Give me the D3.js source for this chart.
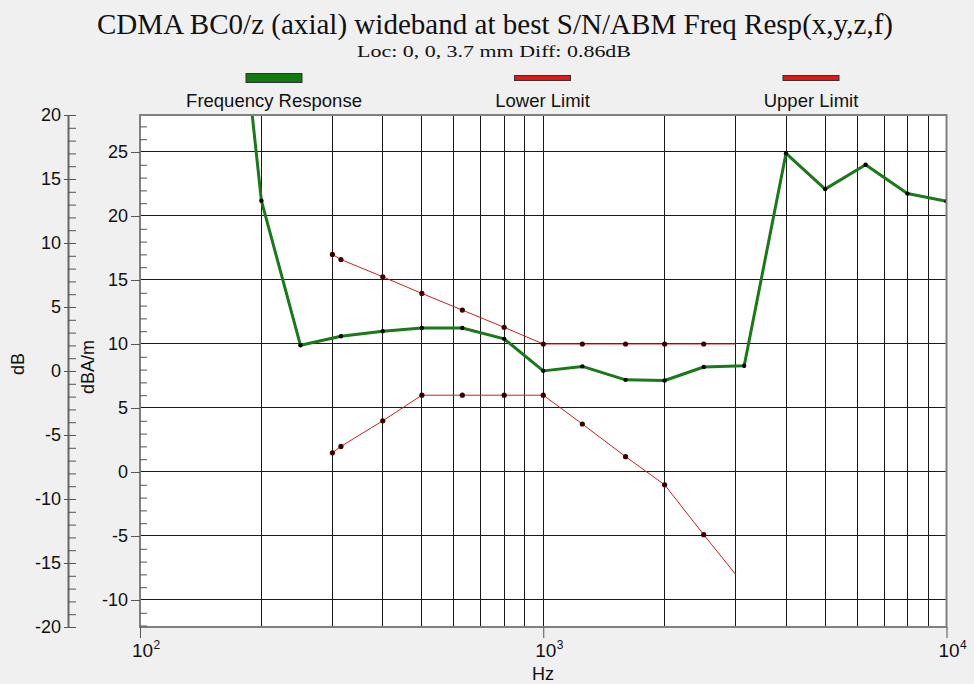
<!DOCTYPE html>
<html>
<head>
<meta charset="utf-8">
<script src="https://cdn.jsdelivr.net/npm/d3@7"></script>
<style>
   body { margin: 0; background: #f0f0f0; }
   svg { display: block; }
</style>
</head>
<body>
<div id="chart"></div>
<script>
// measured response, dBA/m
const freqHz = [160, 200, 250, 315, 400, 500, 630, 800, 1000, 1250, 1600, 2000, 2500, 3150, 4000, 5000, 6300, 8000, 10000];
const response = [49.7, 21.2, 9.9, 10.6, 11.0, 11.25, 11.25, 10.4, 7.9, 8.25, 7.2, 7.15, 8.2, 8.3, 24.9, 22.1, 24.0, 21.75, 21.15];

// limit masks, dBA/m
const limitHz = [300, 315, 400, 500, 630, 800, 1000, 1250, 1600, 2000, 2500, 3000];
const upperLimit = [17, 16.6, 15.25, 13.95, 12.65, 11.3, 10, 10, 10, 10, 10, 10];
const lowerLimit = [1.5, 2, 4, 6, 6, 6, 6, 3.75, 1.2, -1, -4.9, -8];

const dbTicks = [-20, -15, -10, -5, 0, 5, 10, 15, 20];
const dbaTicks = [-10, -5, 0, 5, 10, 15, 20, 25];
const hzTicks = [100, 1000, 10000];
const legendItems = ["Frequency Response", "Lower Limit", "Upper Limit"];

const width = 974, height = 684;
const m = { top: 115, left: 140, right: 27.5, bottom: 57 };
const sans = "'Liberation Sans', Arial, sans-serif";
const serif = "'Liberation Serif', 'Times New Roman', serif";
const green = "#187a18", red = "#cc2020";

let svg = d3.select("#chart").append("svg")
   .attr("width", width)
   .attr("height", height);

let x = d3.scaleLog()
   .domain([100, 10000])
   .range([m.left, width - m.right]);

// dB (outer axis) and dBA/m (inner axis) share the plot height
let yDb = d3.scaleLinear()
   .domain([-20, 20])
   .range([height - m.bottom, m.top]);

let y = d3.scaleLinear()
   .domain([-12.11, 27.89])
   .range([height - m.bottom, m.top]);

// titles
svg.append("text")
   .attr("x", 495).attr("y", 34)
   .attr("text-anchor", "middle")
   .attr("font-family", serif).attr("font-size", 30)
   .attr("textLength", 796).attr("lengthAdjust", "spacingAndGlyphs")
   .attr("fill", "#111")
   .text("CDMA BC0/z (axial) wideband at best S/N/ABM Freq Resp(x,y,z,f)");

svg.append("text")
   .attr("x", 494).attr("y", 57)
   .attr("text-anchor", "middle")
   .attr("font-family", serif).attr("font-size", 17)
   .attr("textLength", 274).attr("lengthAdjust", "spacingAndGlyphs")
   .attr("fill", "#111")
   .text("Loc: 0, 0, 3.7 mm Diff: 0.86dB");

// legend
let lx = d3.scalePoint().domain(legendItems).range([274, 811]);
let legend = svg.selectAll(".legend")
   .data(legendItems)
 .enter().append("g")
   .attr("class", "legend")
   .attr("transform", d => "translate(" + lx(d) + ",0)");

legend.append("rect")
   .attr("x", -28)
   .attr("y", (d, i) => i === 0 ? 73.5 : 75.5)
   .attr("width", 56)
   .attr("height", (d, i) => i === 0 ? 9 : 5)
   .attr("fill", (d, i) => i === 0 ? "#107a10" : "#e01818")
   .attr("stroke", "#333").attr("stroke-width", 1);

legend.append("text")
   .attr("y", 107)
   .attr("text-anchor", "middle")
   .attr("font-family", sans).attr("font-size", 18.5)
   .attr("fill", "#111")
   .text(d => d);

// plot area
svg.append("rect")
   .attr("x", m.left).attr("y", m.top)
   .attr("width", width - m.left - m.right)
   .attr("height", height - m.top - m.bottom)
   .attr("fill", "#fff");

let grid = svg.append("g")
   .attr("stroke", "#1a1a1a")
   .attr("stroke-width", 1)
   .attr("shape-rendering", "crispEdges");

grid.selectAll(".vgrid")
   .data(x.ticks().filter(d => d > 100 && d < 10000))
 .enter().append("line")
   .attr("x1", d => x(d)).attr("x2", d => x(d))
   .attr("y1", m.top).attr("y2", height - m.bottom);

grid.selectAll(".hgrid")
   .data(dbaTicks)
 .enter().append("line")
   .attr("x1", m.left).attr("x2", width - m.right)
   .attr("y1", d => y(d)).attr("y2", d => y(d));

// series
svg.append("clipPath").attr("id", "clip")
 .append("rect")
   .attr("x", m.left).attr("y", m.top)
   .attr("width", width - m.left - m.right)
   .attr("height", height - m.top - m.bottom);

let plot = svg.append("g").attr("clip-path", "url(#clip)");
let line = d3.line().x(d => x(d[0])).y(d => y(d[1]));

let limits = [d3.zip(limitHz, upperLimit), d3.zip(limitHz, lowerLimit)];

plot.selectAll(".limit")
   .data(limits)
 .enter().append("path")
   .attr("fill", "none")
   .attr("stroke", red)
   .attr("stroke-width", 1)
   .attr("d", line);

// the 3 kHz end points carry no marker
plot.selectAll(".limit-pt")
   .data(limits.flatMap(s => s.slice(0, -1)))
 .enter().append("circle")
   .attr("cx", d => x(d[0])).attr("cy", d => y(d[1]))
   .attr("r", 2.6)
   .attr("fill", "#3a0000");

let resp = d3.zip(freqHz, response);

plot.append("path")
   .attr("fill", "none")
   .attr("stroke", green)
   .attr("stroke-width", 3)
   .attr("stroke-linejoin", "round")
   .attr("d", line(resp));

plot.selectAll(".resp-pt")
   .data(resp)
 .enter().append("circle")
   .attr("cx", d => x(d[0])).attr("cy", d => y(d[1]))
   .attr("r", 2.2)
   .attr("fill", "#000");

// frame
svg.append("rect")
   .attr("x", m.left).attr("y", m.top)
   .attr("width", width - m.left - m.right)
   .attr("height", height - m.top - m.bottom)
   .attr("fill", "none")
   .attr("stroke", "#808080")
   .attr("stroke-width", 2);

function styleAxis(g) {
   g.attr("font-family", sans).attr("font-size", 18);
   g.selectAll("line").attr("stroke", "#555");
   g.selectAll("path").attr("stroke", "#666").attr("stroke-width", 2);
   g.selectAll("text").attr("fill", "#111");
}

const plain = d => String(d);   // hyphen minus, like the reference

// inner dBA/m axis
svg.append("g")
   .attr("transform", "translate(" + m.left + ",0)")
   .call(d3.axisLeft(y).tickValues(dbaTicks).tickFormat(plain).tickSize(9).tickPadding(3).tickSizeOuter(0))
   .call(styleAxis)
   .call(g => g.select(".domain").remove());

svg.append("g")
   .attr("transform", "translate(" + m.left + ",0)")
   .call(d3.axisRight(y)
      .tickValues(d3.range(-12, 28).filter(d => d % 5 !== 0))
      .tickSize(7).tickFormat(""))
   .call(styleAxis)
   .call(g => g.select(".domain").remove())
   .call(g => g.selectAll("text").remove());

// outer dB axis
svg.append("g")
   .attr("transform", "translate(68,0)")
   .call(d3.axisLeft(yDb).tickValues(dbTicks).tickFormat(plain).tickSize(4).tickPadding(3).tickSizeOuter(0))
   .call(styleAxis);

svg.append("g")
   .attr("transform", "translate(68,0)")
   .call(d3.axisRight(yDb).tickValues(d3.range(-20, 21)).tickSize(8).tickFormat("").tickSizeOuter(0))
   .call(styleAxis)
   .call(g => g.select(".domain").remove())
   .call(g => g.selectAll("text").remove());

// x axis, labels as 10^n
let xAxis = svg.append("g")
   .attr("transform", "translate(0," + (height - m.bottom) + ")")
   .call(d3.axisBottom(x).tickValues(hzTicks).tickSize(11).tickFormat(""))
   .call(styleAxis)
   .call(g => g.select(".domain").remove())
   .call(g => g.selectAll("text").remove());

let xl = xAxis.selectAll(".tick");
xl.append("text")
   .attr("y", 30).attr("x", 2)
   .attr("text-anchor", "middle")
   .attr("font-size", 19)
   .attr("fill", "#111")
   .text("10");
xl.append("text")
   .attr("y", 22).attr("x", 13)
   .attr("text-anchor", "start")
   .attr("font-size", 12)
   .attr("fill", "#111")
   .text(d => Math.round(Math.log10(d)));

// axis titles
svg.append("text")
   .attr("x", 543).attr("y", 680)
   .attr("text-anchor", "middle")
   .attr("font-family", sans).attr("font-size", 18)
   .attr("fill", "#111")
   .text("Hz");

svg.append("text")
   .attr("transform", "translate(24,364) rotate(-90)")
   .attr("text-anchor", "middle")
   .attr("font-family", sans).attr("font-size", 18)
   .attr("fill", "#111")
   .text("dB");

svg.append("text")
   .attr("transform", "translate(94,367) rotate(-90)")
   .attr("text-anchor", "middle")
   .attr("font-family", sans).attr("font-size", 18)
   .attr("fill", "#111")
   .text("dBA/m");
</script>
</body>
</html>
